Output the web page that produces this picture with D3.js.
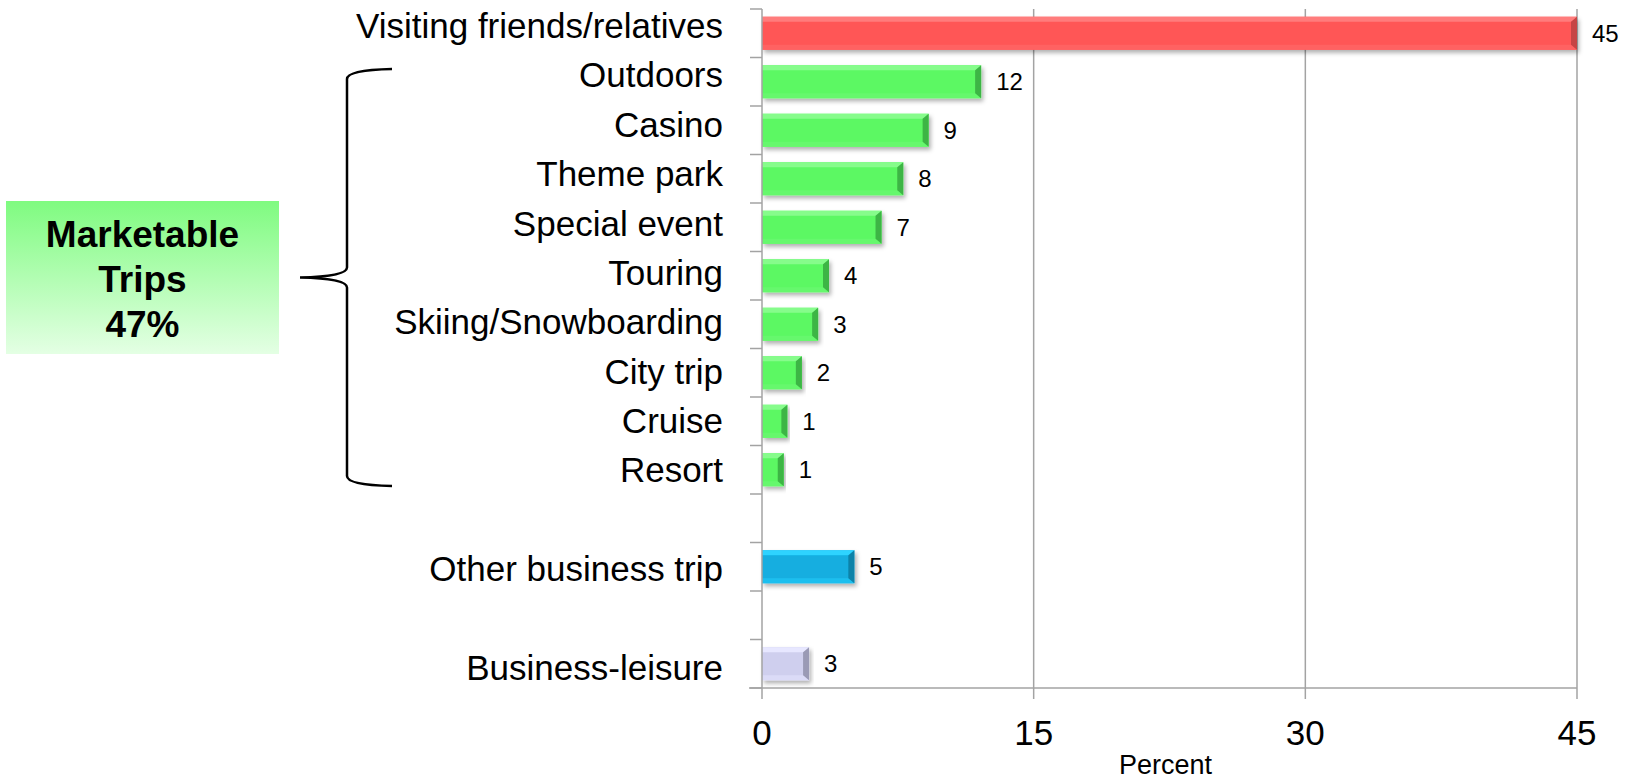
<!DOCTYPE html>
<html>
<head>
<meta charset="utf-8">
<script src="https://cdn.jsdelivr.net/npm/d3@7"></script>
<style>
  html, body { margin: 0; padding: 0; background: #fff; }
  svg { display: block; font-family: "Liberation Sans", Arial, sans-serif; }
</style>
</head>
<body>
<svg id="chart" width="1628" height="781"></svg>
<script>
// ---- data ----
const categories = ["Visiting friends/relatives", "Outdoors", "Casino", "Theme park", "Special event",
  "Touring", "Skiing/Snowboarding", "City trip", "Cruise", "Resort", "", "Other business trip", " ", "Business-leisure"];
const values = [45, 12.1, 9.2, 7.8, 6.6, 3.7, 3.1, 2.2, 1.4, 1.2, null, 5.1, null, 2.6];
const groups = ["vfr", "mkt", "mkt", "mkt", "mkt", "mkt", "mkt", "mkt", "mkt", "mkt", null, "biz", null, "bizl"];
const xTicks = [0, 15, 30, 45];
const xTitle = "Percent";
const boxLines = ["Marketable", "Trips"];

// ---- styles ----
const palette = {
  vfr:  {main: "#FF5656", top: "#FF7C7C", bottom: "#FF6262", right: "#C64444"},
  mkt:  {main: "#5BF863", top: "#86FC8B", bottom: "#66F86D", right: "#3DB545"},
  biz:  {main: "#12AEE0", top: "#2ED3FF", bottom: "#1FBFEF", right: "#0B82A8"},
  bizl: {main: "#CFCFEE", top: "#E7E7FF", bottom: "#DBDBF7", right: "#9A9AB5"}
};
const gridColor = "#A3A3A3";

const svg = d3.select("#chart");
const defs = svg.append("defs");
const f = defs.append("filter").attr("id", "shadow").attr("x", "-5%").attr("y", "-30%").attr("width", "115%").attr("height", "170%");
f.append("feDropShadow").attr("dx", 2).attr("dy", 3).attr("stdDeviation", 2).attr("flood-color", "#000").attr("flood-opacity", 0.3);
const g = defs.append("linearGradient").attr("id", "boxGrad").attr("x1", 0).attr("y1", 0).attr("x2", 0).attr("y2", 1);
g.append("stop").attr("offset", "0%").attr("stop-color", "#7FFB80");
g.append("stop").attr("offset", "100%").attr("stop-color", "#E4FFE4");

// ---- scales ----
const x = d3.scaleLinear().domain([0, 45]).range([762, 1577]);
const y = d3.scaleBand().domain(categories).range([9, 688]).paddingInner(0.32).paddingOuter(0.16);
const step = y.step();
const labelY = d3.scalePoint().domain(categories).range([38, 680]);

const data = categories.map((c, i) => ({c, v: values[i], grp: groups[i]})).filter(d => d.v != null);

// ---- gridlines ----
svg.append("g").selectAll("line").data(xTicks.filter(t => t > 0)).join("line")
  .attr("x1", d => x(d)).attr("x2", d => x(d))
  .attr("y1", y.range()[0]).attr("y2", y.range()[1])
  .attr("stroke", gridColor).attr("stroke-width", 1.5);

// ---- bars ----
const bars = svg.append("g").selectAll("g").data(data).join("g").attr("filter", "url(#shadow)");
const b = 5;
bars.append("rect")
  .attr("x", x(0)).attr("y", d => y(d.c))
  .attr("width", d => x(d.v) - x(0)).attr("height", y.bandwidth())
  .attr("fill", d => palette[d.grp].main);
bars.append("polygon").attr("fill", d => palette[d.grp].top)
  .attr("points", d => { const x0 = x(0), x1 = x(d.v), y0 = y(d.c);
    return [[x0, y0], [x1, y0], [x1 - b, y0 + b], [x0, y0 + b]].join(" "); });
bars.append("polygon").attr("fill", d => palette[d.grp].bottom)
  .attr("points", d => { const x0 = x(0), x1 = x(d.v), y1 = y(d.c) + y.bandwidth();
    return [[x0, y1], [x1, y1], [x1 - b, y1 - b], [x0, y1 - b]].join(" "); });
bars.append("polygon").attr("fill", d => palette[d.grp].right)
  .attr("points", d => { const x1 = x(d.v), y0 = y(d.c), y1 = y0 + y.bandwidth();
    return [[x1, y0], [x1, y1], [x1 - b - 1, y1 - b], [x1 - b - 1, y0 + b]].join(" "); });

// ---- value labels ----
const fmt = d3.format(".0f");
svg.append("g").selectAll("text").data(data).join("text")
  .attr("x", d => x(d.v) + 15).attr("y", d => y(d.c) + y.bandwidth() / 2 + 8.5)
  .attr("font-size", 24).attr("fill", "#000")
  .text(d => fmt(d.v));

// ---- axes ----
const axisG = svg.append("g");
axisG.append("line").attr("x1", x(0)).attr("x2", x(0)).attr("y1", y.range()[0]).attr("y2", y.range()[1])
  .attr("stroke", gridColor).attr("stroke-width", 1.5);
axisG.append("line").attr("x1", x(0) - 13).attr("x2", x(45)).attr("y1", y.range()[1]).attr("y2", y.range()[1])
  .attr("stroke", gridColor).attr("stroke-width", 1.5);
// category tick marks between categories
axisG.append("g").selectAll("line").data(d3.range(categories.length + 1)).join("line")
  .attr("x1", x(0) - 12).attr("x2", x(0))
  .attr("y1", i => y.range()[0] + i * step).attr("y2", i => y.range()[0] + i * step)
  .attr("stroke", gridColor).attr("stroke-width", 1.5);
// x tick marks
axisG.append("g").selectAll("line").data(xTicks).join("line")
  .attr("x1", d => x(d)).attr("x2", d => x(d))
  .attr("y1", y.range()[1]).attr("y2", y.range()[1] + 11)
  .attr("stroke", gridColor).attr("stroke-width", 1.5);
axisG.append("g").selectAll("text").data(xTicks).join("text")
  .attr("x", d => x(d)).attr("y", 745).attr("text-anchor", "middle")
  .attr("font-size", 35).attr("fill", "#000").text(d => d);
svg.append("text").attr("x", (x(0) + x(45)) / 2 - 4).attr("y", 774).attr("text-anchor", "middle")
  .attr("font-size", 27).attr("fill", "#000").text(xTitle);

// category labels
svg.append("g").selectAll("text").data(categories.filter(c => c.trim() !== "")).join("text")
  .attr("x", 723).attr("y", d => labelY(d)).attr("text-anchor", "end")
  .attr("font-size", 35).attr("fill", "#000").text(d => d);

// ---- bracket ----
const mktCats = categories.filter((c, i) => groups[i] === "mkt");
const bTop = y(mktCats[0]) - y.step() * y.paddingInner() / 2 + 11.5;
const bBot = y(mktCats[mktCats.length - 1]) + y.bandwidth() + y.step() * y.paddingInner() / 2 - 8;
const bMid = (bTop + bBot) / 2;
const bx = 347, bxr = 392, tip = 300;
svg.append("path")
  .attr("d", `M${bxr},${bTop} Q${bx},${bTop + 1} ${bx},${bTop + 10} L${bx},${bMid - 10} Q${bx},${bMid - 1} ${tip},${bMid} Q${bx},${bMid + 1} ${bx},${bMid + 10} L${bx},${bBot - 10} Q${bx},${bBot - 1} ${bxr},${bBot}`)
  .attr("fill", "none").attr("stroke", "#000").attr("stroke-width", 2.5);

// ---- box ----
const mktTotal = d3.sum(data.filter(d => d.grp === "mkt"), d => +fmt(d.v));
svg.append("rect").attr("x", 6).attr("y", bMid - 76.5).attr("width", 273).attr("height", 153)
  .attr("fill", "url(#boxGrad)");
const bt = svg.append("text").attr("text-anchor", "middle").attr("font-size", 37).attr("font-weight", "bold").attr("fill", "#000");
[...boxLines, mktTotal + "%"].forEach((t, i) => {
  bt.append("tspan").attr("x", 142.5).attr("y", bMid - 30.5 + i * 45).text(t);
});
</script>
</body>
</html>
